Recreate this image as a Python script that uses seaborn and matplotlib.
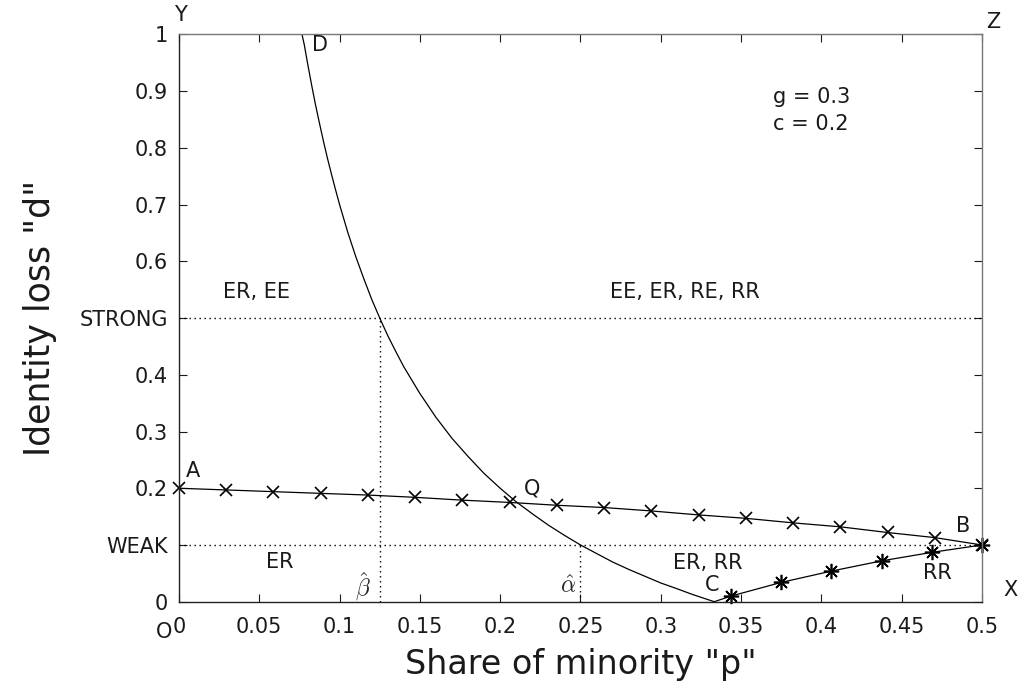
import matplotlib
matplotlib.use("Agg")
import matplotlib.pyplot as plt
import pandas as pd
import seaborn as sns

# ---- data -------------------------------------------------------------
# Upper boundary A -> B (x markers)
ab_p = [0.0, 0.0294, 0.0588, 0.0882, 0.1176, 0.1471, 0.1765, 0.2059, 0.2353,
        0.2647, 0.2941, 0.3235, 0.3529, 0.3824, 0.4118, 0.4412, 0.4706, 0.5]
ab_d = [0.200, 0.197, 0.194, 0.191, 0.188, 0.184, 0.179, 0.175, 0.170,
        0.166, 0.160, 0.153, 0.147, 0.139, 0.132, 0.122, 0.113, 0.100]

# Lower boundary C -> B (asterisk markers)
cb_p = [0.3438, 0.375, 0.4063, 0.4375, 0.4688, 0.5]
cb_d = [0.010, 0.034, 0.054, 0.072, 0.087, 0.100]

# Curve D -> C, ending with the short link up to the first asterisk
dc_p = [0.0766, 0.078, 0.08, 0.0825, 0.085, 0.0875, 0.09, 0.0925, 0.095,
        0.0975, 0.10, 0.105, 0.11, 0.115, 0.12, 0.125, 0.13, 0.135, 0.14,
        0.15, 0.16, 0.17, 0.18, 0.19, 0.20, 0.21, 0.22, 0.23, 0.24, 0.25,
        0.26, 0.27, 0.28, 0.29, 0.30, 0.31, 0.32, 0.3333, 0.3438]
dc_d = [1.0, 0.982, 0.95, 0.912, 0.876, 0.843, 0.811, 0.781, 0.753,
        0.726, 0.70, 0.652, 0.609, 0.570, 0.533, 0.50, 0.469, 0.441, 0.414,
        0.367, 0.325, 0.288, 0.256, 0.226, 0.20, 0.176, 0.155, 0.135, 0.117,
        0.10, 0.085, 0.070, 0.057, 0.045, 0.033, 0.023, 0.0125, 0.0, 0.010]

# Thresholds
strong_d = 0.5
weak_d = 0.1
beta_hat = 0.125
alpha_hat = 0.25

x_ticks = [0, 0.05, 0.1, 0.15, 0.2, 0.25, 0.3, 0.35, 0.4, 0.45, 0.5]
x_tick_labels = ["0", "0.05", "0.1", "0.15", "0.2", "0.25", "0.3", "0.35",
                 "0.4", "0.45", "0.5"]
y_ticks = [0, 0.1, 0.2, 0.3, 0.4, 0.5, 0.6, 0.7, 0.8, 0.9, 1.0]
y_tick_labels = ["0", "WEAK", "0.2", "0.3", "0.4", "STRONG", "0.6", "0.7",
                 "0.8", "0.9", "1"]

params_text = "g = 0.3\nc = 0.2"

# ---- figure -----------------------------------------------------------
sns.set_theme(style="ticks")
plt.rcParams["font.family"] = ["DejaVu Sans"]
plt.rcParams["mathtext.fontset"] = "cm"

fig = plt.figure(figsize=(10.2, 6.89), dpi=100)
ax = fig.add_axes([0.1755, 0.1267, 0.9627 - 0.1755, 0.950 - 0.1267])

ab = pd.DataFrame({"p": ab_p, "d": ab_d})
cb = pd.DataFrame({"p": cb_p, "d": cb_d})
dc = pd.DataFrame({"p": dc_p, "d": dc_d})

# Dotted reference lines
dots = (0, (1, 2.6))
ax.hlines([strong_d, weak_d], 0, 0.5, colors="black", linestyles=[dots], lw=1.0)
ax.vlines(beta_hat, 0, strong_d, colors="black", linestyles=[dots], lw=1.0)
ax.vlines(alpha_hat, 0, weak_d, colors="black", linestyles=[dots], lw=1.0)

sns.lineplot(data=dc, x="p", y="d", sort=False, estimator=None, ax=ax,
             color="black", lw=0.9)
sns.lineplot(data=ab, x="p", y="d", sort=False, estimator=None, ax=ax,
             color="black", lw=0.9, marker="x", markersize=8,
             markeredgewidth=1.2, markeredgecolor="black", clip_on=False)
sns.lineplot(data=cb, x="p", y="d", sort=False, estimator=None, ax=ax,
             color="black", lw=0.9, marker=(8, 2, 0), markersize=11,
             markeredgewidth=1.2, markeredgecolor="black", clip_on=False)

ax.set_xlim(0, 0.5)
ax.set_ylim(0, 1)
ax.set_xticks(x_ticks)
ax.set_xticklabels(x_tick_labels)
ax.set_yticks(y_ticks)
ax.set_yticklabels(y_tick_labels)
ax.tick_params(direction="in", length=6, width=0.8, top=True, right=True,
               labelsize=15, colors="#1a1a1a")
ax.tick_params(axis="x", pad=11)
ax.tick_params(axis="y", pad=8)

for side in ["left", "bottom"]:
    ax.spines[side].set_color("#222222")
    ax.spines[side].set_linewidth(1.0)
for side in ["top", "right"]:
    ax.spines[side].set_color("#777777")
    ax.spines[side].set_linewidth(1.0)

ax.set_xlabel('Share of minority "p"', fontsize=24, color="#1a1a1a", labelpad=8)
ax.set_ylabel('Identity loss "d"', fontsize=25, color="#1a1a1a", labelpad=16)

txt = dict(fontsize=15, color="#1a1a1a", ha="center", va="center")
# Corner and point labels
ax.text(0.001, 1.034, "Y", clip_on=False, **txt)
ax.text(0.507, 1.022, "Z", clip_on=False, **txt)
ax.text(0.518, 0.020, "X", clip_on=False, **txt)
ax.text(-0.009, -0.053, "O", clip_on=False, **txt)
ax.text(0.0876, 0.981, "D", **txt)
ax.text(0.0085, 0.230, "A", **txt)
ax.text(0.220, 0.200, "Q", **txt)
ax.text(0.488, 0.133, "B", **txt)
ax.text(0.332, 0.029, "C", **txt)

# Region labels
ax.text(0.0485, 0.546, "ER, EE", **txt)
ax.text(0.315, 0.546, "EE, ER, RE, RR", **txt)
ax.text(0.0627, 0.070, "ER", **txt)
ax.text(0.329, 0.069, "ER, RR", **txt)
ax.text(0.472, 0.050, "RR", **txt)

ax.text(0.3697, 0.866, params_text, fontsize=15, color="#1a1a1a",
        ha="left", va="center", linespacing=1.45)

ax.text(0.1143, 0.027, r"$\hat{\beta}$", fontsize=17, ha="center", va="center")
ax.text(0.242, 0.027, r"$\hat{\alpha}$", fontsize=17, ha="center", va="center")

fig.savefig("out.png", dpi=100)
